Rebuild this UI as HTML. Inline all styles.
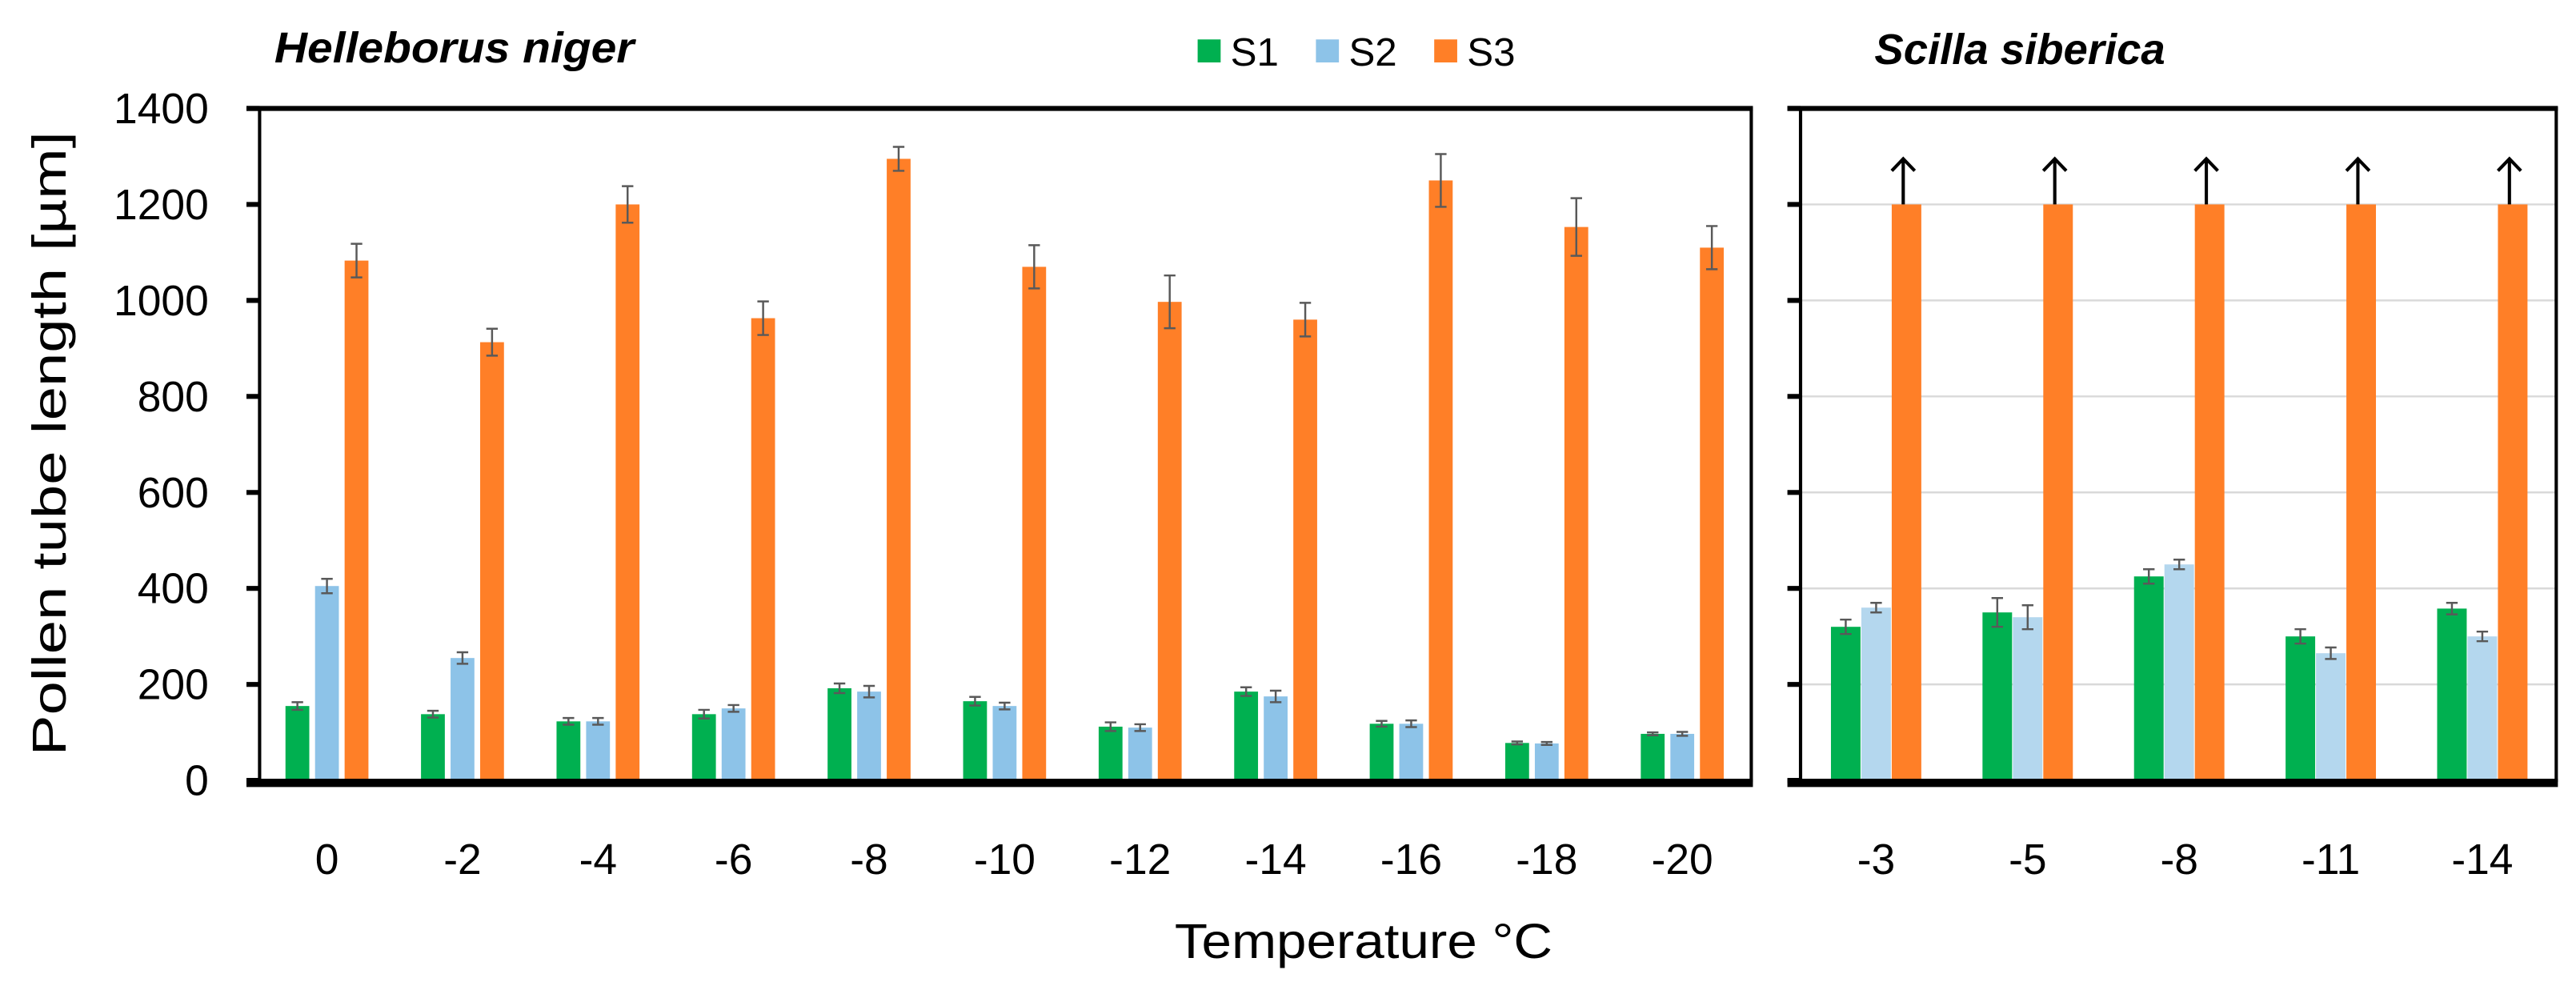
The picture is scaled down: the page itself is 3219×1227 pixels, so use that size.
<!DOCTYPE html>
<html><head><meta charset="utf-8"><style>html,body{margin:0;padding:0;background:#fff}svg{display:block}text{font-family:"Liberation Sans",sans-serif}</style></head>
<body>
<svg id="chart" width="3219" height="1227" viewBox="0 0 1568 597.7" xmlns="http://www.w3.org/2000/svg">
<g id="g"></g>
</svg>
<script>
const leftCats=["0","-2","-4","-6","-8","-10","-12","-14","-16","-18","-20"];
const leftS1=[155,138,123,138,192,165,112,185,118,78,97];
const leftS1Err=[8,7,7,9,10,9,9,9,6,3,3];
const leftS2=[405,255,123,150,185,155,110,175,118,77,97];
const leftS2Err=[15,12,7,7,12,7,7,12,7,3,4];
const leftS3=[1083,913,1200,963,1295,1070,997,960,1250,1153,1110];
const leftS3Err=[35,28,38,35,25,45,55,35,55,60,45];
const rightCats=["-3","-5","-8","-11","-14"];
const rightS1=[320,350,425,300,358];
const rightS1Err=[15,30,15,15,12];
const rightS2=[360,340,450,265,300];
const rightS2Err=[10,25,10,12,10];
const rightS3=[1200,1200,1200,1200,1200];
const yTicks=[0,200,400,600,800,1000,1200,1400];
const NS="http://www.w3.org/2000/svg";
const g=document.getElementById('g');
function mk(t,a,txt){const e=document.createElementNS(NS,t);for(const k in a)e.setAttribute(k,a[k]);if(txt!==undefined)e.textContent=txt;g.appendChild(e);return e;}
const y0=475,yTop=66;
const LX0=158,LX1=1066,RX0=1096,RX1=1556;
function y(v){return y0-(v/1400)*(y0-yTop);}
yTicks.forEach(t=>{if(t>0&&t<1400){const l=mk('line',{x1:RX0,x2:RX1,y1:y(t),y2:y(t),stroke:'#d9d9d9','stroke-width':1.2});}});
function panel(cats,series,errs,c0,spacing,bw,step,name,colors){
  cats.forEach((c,i)=>{
    const cx=c0+i*spacing;
    series.forEach((s,j)=>{
      const bx=cx+(j-1)*step-bw/2;
      const r=mk('rect',{x:bx,y:y(s[i]),width:bw,height:y0-y(s[i]),fill:colors[j]});
      
      
      if(errs[j]){const e=errs[j][i],ex=bx+bw/2;
        const p=mk('path',{d:`M${ex},${y(s[i]+e)}V${y(s[i]-e)}M${ex-3.5},${y(s[i]+e)}H${ex+3.5}M${ex-3.5},${y(s[i]-e)}H${ex+3.5}`,stroke:'#595959','stroke-width':1.2,fill:'none'});
        
        
      }
      if(!errs[j]&&j===2){const ex=bx+bw/2-2;
        const a=mk('path',{d:`M${ex},${y(s[i])}V${y(s[i]+95)}M${ex-7},${y(s[i]+70)}L${ex},${y(s[i]+95)}L${ex+7},${y(s[i]+70)}`,stroke:'#000','stroke-width':2,fill:'none'});
        
        
      }
    });
    const t=mk('text',{x:cx,y:532,'font-size':26,'text-anchor':'middle'},c);
    
    
  });
}
panel(leftCats,[leftS1,leftS2,leftS3],[leftS1Err,leftS2Err,leftS3Err],199,82.5,14.5,18,'helleborus',["#00B050","#8DC3E8","#FF7F27"]);
panel(rightCats,[rightS1,rightS2,rightS3],[rightS1Err,rightS2Err,null],1142,92.25,18,18.5,'scilla',["#00B050","#B4D7EE","#FF7F27"]);
[[LX0,LX1],[RX0,RX1]].forEach(([a,b],k)=>{
  const r=mk('rect',{x:a,y:yTop,width:b-a,height:y0-yTop,fill:'none',stroke:'#000','stroke-width':2});
  
  
  const bl=mk('line',{x1:a-8,x2:b+1,y1:y0+1.5,y2:y0+1.5,stroke:'#000','stroke-width':5});
  
  
  const tl=mk('line',{x1:a-8,x2:b+1,y1:yTop,y2:yTop,stroke:'#000','stroke-width':3});
  
  
  yTicks.forEach(t=>{const l=mk('line',{x1:a-8,x2:a,y1:y(t),y2:y(t),stroke:'#000','stroke-width':3});
    
    });
});
yTicks.forEach(t=>{const l=mk('text',{x:127,y:y(t)+9,'font-size':26,'text-anchor':'end'},String(t));
  
  });
const yt=mk('text',{x:0,y:0,'font-size':29,'text-anchor':'middle',textLength:380,lengthAdjust:'spacingAndGlyphs',transform:'translate(40,270) rotate(-90)'},'Pollen tube length [µm]');


const xt=mk('text',{x:830,y:583,'font-size':30,'text-anchor':'middle',textLength:230,lengthAdjust:'spacingAndGlyphs'},'Temperature °C');


const t1=mk('text',{x:167,y:38,'font-size':26,'font-weight':'bold','font-style':'italic',textLength:219,lengthAdjust:'spacingAndGlyphs'},'Helleborus niger');


const t2=mk('text',{x:1141,y:39,'font-size':26,'font-weight':'bold','font-style':'italic',textLength:177,lengthAdjust:'spacingAndGlyphs'},'Scilla siberica');


const legColors=["#00B050","#8DC3E8","#FF7F27"];
["S1","S2","S3"].forEach((s,i)=>{const lx=729+i*72;
  const r=mk('rect',{x:lx,y:24,width:14,height:14,fill:legColors[i]});
  
  
  const t=mk('text',{x:lx+20,y:40,'font-size':24},s);
  
  });
</script>
</body></html>
